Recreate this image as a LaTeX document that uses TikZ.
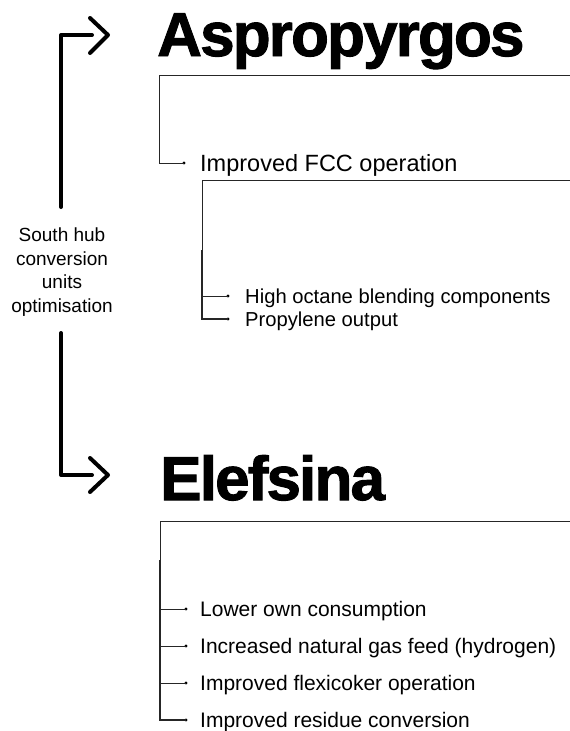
\documentclass[tikz,border=0pt]{standalone}
\usepackage{fontspec}
\setmainfont{Liberation Sans}
\newfontfamily\titlefont{Liberation Sans}[FakeBold=1.6,LetterSpace=-3]
\begin{document}
\begin{tikzpicture}[x=1pt,y=-1pt,
  thickarrow/.style={line width=4pt, line cap=round, line join=round},
  thinline/.style={line width=0.8pt, draw=black!85},
  title/.style={font=\titlefont\bfseries\fontsize{62}{62}\selectfont, inner sep=0pt, anchor=base west},
  item/.style={inner sep=0pt, anchor=base west},
  dotend/.style={circle, fill=black, inner sep=0pt, minimum size=3.2pt}]
\useasboundingbox (0,0) rectangle (570,731);

% ---- hub label and thick arrows
\node[align=center, font=\fontsize{19}{23.7}\selectfont, inner sep=0pt] (hub) at (62,272) {South hub\\conversion\\units\\optimisation};
\coordinate (upA) at (61,207);
\coordinate (upC) at (61,35);
\coordinate (upE) at (92,35);
\coordinate (chUa) at (90,18);
\coordinate (chUt) at (108,35);
\coordinate (chUb) at (90,53);
\draw[thickarrow] (upA) -- (upC) -- (upE);
\draw[thickarrow] (chUa) -- (chUt) -- (chUb);

\coordinate (dnA) at (61,333);
\coordinate (dnC) at (61,475);
\coordinate (dnE) at (92,475);
\coordinate (chDa) at (90,458);
\coordinate (chDt) at (108,475);
\coordinate (chDb) at (90,492);
\draw[thickarrow] (dnA) -- (dnC) -- (dnE);
\draw[thickarrow] (chDa) -- (chDt) -- (chDb);

% ---- Aspropyrgos
\node[title] (asp) at (157,56) {Aspropyrgos};
\coordinate (b1r) at (570,75);
\coordinate (b1l) at (159,75);
\coordinate (b1c) at (159,163);
\node[dotend] (d1) at (184,163) {};
\node[item, font=\fontsize{23.5}{23.5}\selectfont] (fcc) at (200,171.4) {Improved FCC operation};
\draw[thinline] (b1r) -- (b1l) -- (b1c) -- (d1.center);

\coordinate (b2r) at (570,180);
\coordinate (b2l) at (202,180);
\coordinate (b2m) at (202,250);
\coordinate (b2a) at (202,296);
\coordinate (b2b) at (202,319);
\node[dotend] (d2a) at (228,296) {};
\node[dotend] (d2b) at (228,319) {};
\node[item, font=\fontsize{20.2}{20.2}\selectfont] (hoc) at (245,303.2) {High octane blending components};
\node[item, font=\fontsize{20.2}{20.2}\selectfont] (pro) at (245,326.2) {Propylene output};
\draw[thinline] (b2r) -- (b2l) -- (b2m);
\draw[thinline, line width=1.1pt] (b2m) -- (b2b) -- (d2b.center);
\draw[thinline] (b2a) -- (d2a.center);

% ---- Elefsina
\node[title] (ele) at (160,500) {Elefsina};
\coordinate (b3r) at (570,521);
\coordinate (b3l) at (160,521);
\coordinate (b3m) at (160,560);
\coordinate (b3a) at (160,609);
\coordinate (b3b) at (160,646);
\coordinate (b3c) at (160,683);
\coordinate (b3d) at (160,720);
\node[dotend] (d3a) at (186,609) {};
\node[dotend] (d3b) at (186,646) {};
\node[dotend] (d3c) at (186,683) {};
\node[dotend] (d3d) at (186,720) {};
\node[item, font=\fontsize{21}{21}\selectfont] (e1) at (200,616.5) {Lower own consumption};
\node[item, font=\fontsize{21}{21}\selectfont] (e2) at (200,653.5) {Increased natural gas feed (hydrogen)};
\node[item, font=\fontsize{21}{21}\selectfont] (e3) at (200,690.5) {Improved flexicoker operation};
\node[item, font=\fontsize{21}{21}\selectfont] (e4) at (200,727.5) {Improved residue conversion};
\draw[thinline] (b3r) -- (b3l) -- (b3m);
\draw[thinline, line width=1.1pt] (b3m) -- (b3d) -- (d3d.center);
\draw[thinline] (b3a) -- (d3a.center);
\draw[thinline] (b3b) -- (d3b.center);
\draw[thinline] (b3c) -- (d3c.center);
\end{tikzpicture}
\end{document}
